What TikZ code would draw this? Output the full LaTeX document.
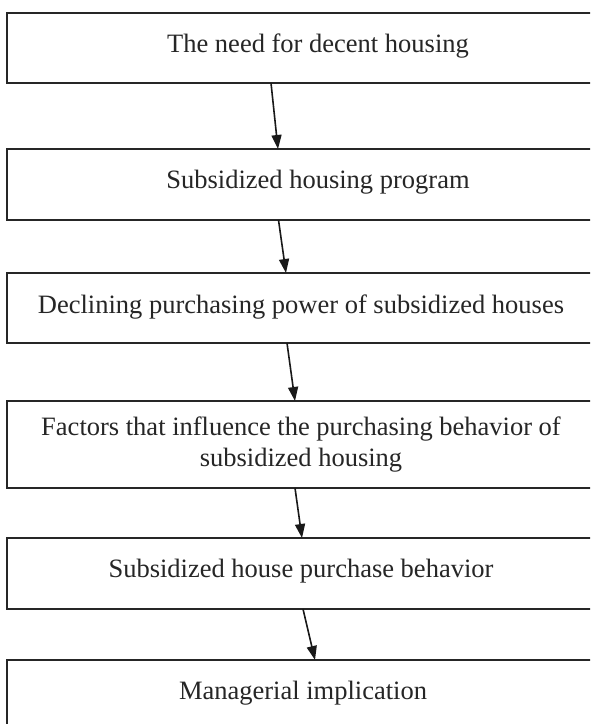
\documentclass[tikz,border=0pt]{standalone}
\usepackage{fontspec}
\setmainfont{Liberation Serif}
\usetikzlibrary{arrows.meta,calc}
\begin{document}
\begin{tikzpicture}[x=1pt,y=-1pt,
  box/.style={draw=black!85, line width=2pt, fill=white, rectangle, inner sep=0pt, outer sep=0pt, anchor=north west, minimum width=620pt},
  lbl/.style={font=\fontsize{26.5}{30.5}\selectfont, text=black!85, anchor=base, inner sep=0pt},
  arr/.style={draw=black!90, line width=1.6pt, -{Triangle[length=14pt,width=10pt]}}]
\useasboundingbox (0,0) rectangle (590,724);
\fill[white] (0,0) rectangle (590,724);
\begin{scope}
\clip (0,0) rectangle (590,724);
\node[box, minimum height=70pt] (b1) at (7,13) {};
\node[box, minimum height=71pt] (b2) at (7,149) {};
\node[box, minimum height=70pt] (b3) at (7,273) {};
\node[box, minimum height=87pt] (b4) at (7,401) {};
\node[box, minimum height=71pt] (b5) at (7,538) {};
\node[box, minimum height=90pt] (b6) at (7,660) {};
\end{scope}
\node[lbl] (t1) at (318,52) {The need for decent housing};
\node[lbl] (t2) at (318,188) {Subsidized housing program};
\node[lbl] (t3) at (301,313) {Declining purchasing power of subsidized houses};
\node[lbl] (t4a) at (301,435) {Factors that influence the purchasing behavior of};
\node[lbl] (t4b) at (301,466) {subsidized housing};
\node[lbl] (t5) at (301,577) {Subsidized house purchase behavior};
\node[lbl] (t6) at (303,699) {Managerial implication};
\draw[arr] ([xshift=264pt]b1.south west) -- ([xshift=271pt]b2.north west);
\draw[arr] ([xshift=271.5pt]b2.south west) -- ([xshift=279pt]b3.north west);
\draw[arr] ([xshift=280pt]b3.south west) -- ([xshift=288pt]b4.north west);
\draw[arr] ([xshift=288pt]b4.south west) -- ([xshift=295pt]b5.north west);
\draw[arr] ([xshift=296pt]b5.south west) -- ([xshift=308pt]b6.north west);
\end{tikzpicture}
\end{document}
